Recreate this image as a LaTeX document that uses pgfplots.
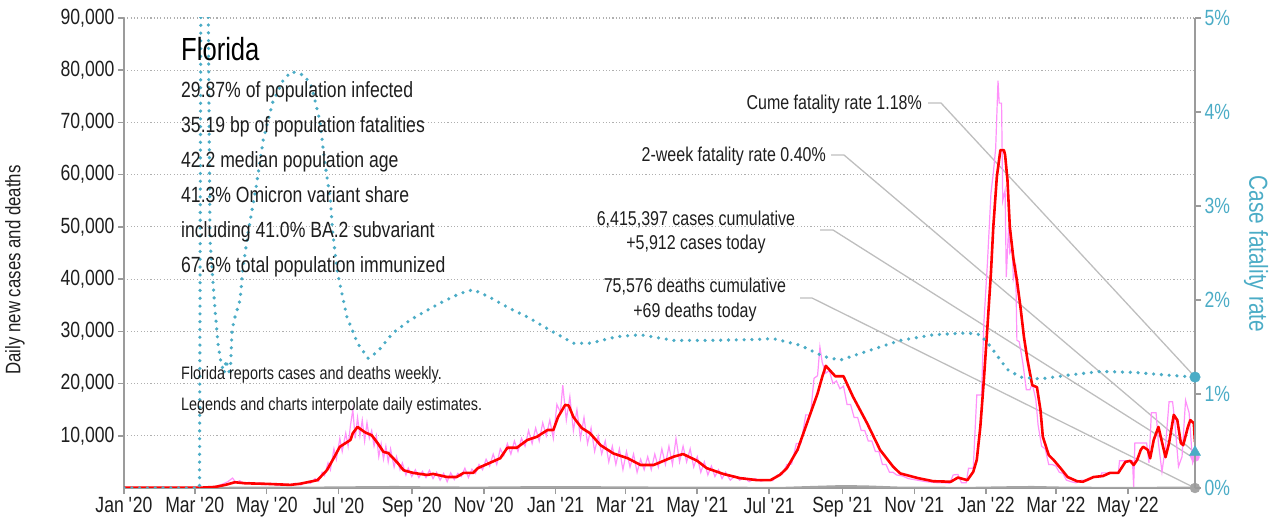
\documentclass[border=0pt]{standalone}
\usepackage{pgfplots}
\pgfplotsset{compat=1.18}
\usepackage{fontspec}
\setmainfont{Liberation Sans}[FakeStretch=0.8]

\definecolor{tealc}{RGB}{75,172,198}
\definecolor{redc}{RGB}{255,0,0}
\definecolor{pinkc}{RGB}{255,145,250}
\definecolor{deathc}{RGB}{165,165,165}
\definecolor{leadc}{RGB}{190,190,190}
\definecolor{axisc}{RGB}{155,155,155}
\definecolor{gridc}{RGB}{175,175,175}
\definecolor{textc}{RGB}{30,30,30}

\newcommand{\yr}[1]{\textquotesingle#1}
\newcommand{\fs}[1]{\fontsize{#1bp}{#1bp}\selectfont}

\begin{document}
\begin{tikzpicture}
\path[use as bounding box] (0,0) rectangle (1283bp,529bp);

% leader lines from the notes to the end points
\begin{scope}[draw=leadc, line width=1.3bp]
  \draw (928bp,426bp) -- (941bp,426bp) -- (1195bp,152bp);
  \draw (831bp,374bp) -- (844bp,374bp) -- (1193bp,78bp);
  \draw (820bp,299bp) -- (833bp,299bp) -- (1192bp,72bp);
  \draw (800bp,231bp) -- (812bp,231bp) -- (1195bp,41bp);
\end{scope}

% cases and deaths
\begin{axis}[
    at={(124bp,41bp)}, anchor=south west,
    width=1071bp, height=470bp, scale only axis,
    xmin=0, xmax=908, ymin=0, ymax=90000,
    axis x line*=bottom, axis y line*=left,
    axis line style={-, draw=axisc, line width=2bp},
    xtick={0,60,121,182,244,305,366,425,486,547,609,670,731,790,851},
    xticklabels={Jan \yr{20}, Mar \yr{20}, May \yr{20}, Jul \yr{20}, Sep \yr{20}, Nov \yr{20},
                 Jan \yr{21}, Mar \yr{21}, May \yr{21}, Jul \yr{21}, Sep \yr{21}, Nov \yr{21},
                 Jan \yr{22}, Mar \yr{22}, May \yr{22}},
    ytick={10000,20000,...,90000},
    scaled y ticks=false,
    tick align=outside, major tick length=6bp,
    tick style={draw=axisc, line width=1.5bp},
    ymajorgrids,
    grid style={draw=gridc, line width=1.1bp, dash pattern=on 1.1bp off 2.2bp},
    ticklabel style={font=\fs{22}, text=textc},
    /pgf/number format/assume math mode=true,
    /pgf/number format/1000 sep={,},
]
  % daily reported cases (interpolated)
  \addplot[pinkc, line width=1.2bp] coordinates {
    (0,0)(60,0)(70,100)(78,300)(84,800)(88,1200)(92,1900)(95,1000)(98,1400)(102,800)
    (106,1100)(110,700)(115,1000)(120,600)(125,900)(130,500)(135,800)(140,500)(145,900)
    (150,600)(154,1100)(158,900)(162,1800)(165,1300)(168,3000)(170,2400)(173,4800)
    (175,3500)(178,7500)(180,5500)(183,9500)(185,7000)(188,10500)(190,8000)(192,12000)
    (194,15000)(196,9500)(198,13500)(200,10000)(202,13000)(204,9000)(206,12500)(208,9500)
    (210,11000)(212,8000)(214,10000)(216,6000)(218,8500)(220,5500)(222,8000)(224,5000)
    (226,7500)(229,4000)(231,6000)(234,3500)(236,4800)(239,2500)(241,3800)(244,2200)
    (247,3500)(250,2000)(253,3200)(256,2000)(259,3400)(262,1800)(265,3000)(268,1500)
    (271,2800)(274,1200)(277,2900)(280,1600)(283,2800)(286,2200)(289,3800)(292,2000)
    (295,3600)(298,2800)(301,4500)(304,3500)(307,5500)(310,4200)(313,6500)(316,4500)
    (319,7500)(322,6200)(325,8500)(328,6500)(331,9000)(334,7000)(337,9500)(340,8000)
    (343,11000)(346,8500)(349,11500)(352,9000)(355,12500)(358,10000)(361,13000)(364,9500)
    (367,16000)(370,14500)(372,19700)(375,13000)(378,17500)(381,11000)(384,15000)(387,9500)
    (390,13500)(393,8500)(396,11500)(399,7000)(402,10000)(405,6500)(408,9000)(411,5000)
    (414,8000)(417,4500)(420,7500)(423,3500)(426,7000)(429,4000)(432,6500)(435,3000)
    (438,5500)(441,3500)(444,6000)(447,3500)(450,6500)(453,4000)(456,7500)(459,4500)
    (462,8000)(465,4500)(468,9500)(471,5000)(474,8000)(477,5000)(480,7500)(483,4000)
    (486,6000)(489,3000)(492,5000)(495,2500)(498,4200)(501,2200)(504,3500)(507,1800)
    (510,3000)(514,1500)(518,2300)(522,1500)(526,2000)(530,1200)(535,1800)(540,1300)
    (545,1600)(550,1400)(554,2500)(558,2600)(562,4500)(566,4600)(570,8500)(574,8600)
    (578,14000)(582,14000)(585,21000)(588,21500)(590,27000)(592,24000)(595,22000)
    (598,22500)(601,20000)(604,20500)(607,19000)(610,19500)(613,16000)(616,16000)
    (619,13500)(622,13500)(625,11000)(628,11000)(631,9000)(634,9000)(637,7000)(640,7000)
    (643,4500)(646,4500)(649,3000)(652,3000)(655,2500)(660,2300)(665,1800)(670,1600)
    (675,1400)(680,1200)(685,1100)(690,1000)(695,1000)(700,900)(703,2500)(707,2600)
    (710,1000)(714,1000)(716,3800)(720,3800)(723,17800)(727,17800)(729,31600)(732,43000)
    (735,56400)(737,60300)(739,65000)(741,78000)(742,73700)(744,73700)(745,55000)
    (747,57000)(748,40400)(750,50000)(751,45000)(753,46000)(754,40000)(756,42000)
    (757,28300)(759,28000)(762,24000)(765,18800)(768,18800)(770,20000)(773,17000)
    (775,12000)(778,8000)(781,7500)(784,4500)(787,4500)(790,4200)(793,3000)(796,2800)
    (799,1500)(803,1200)(807,1000)(812,1500)(817,1500)(822,2100)(828,2100)(829,2900)
    (843,2900)(844,5200)(855,5200)(856,200)(857,8600)(867,8600)(869,4800)(871,14400)
    (875,14400)(877,8600)(880,3100)(883,8000)(886,16500)(889,16500)(891,12400)(894,4100)
    (897,6000)(900,16800)(903,14400)(906,4800)(908,5900)
  };
  % deaths
  \addplot[deathc, line width=2bp] coordinates {
    (0,0)(70,0)(90,50)(150,60)(200,150)(230,200)(260,120)(300,80)(340,150)(380,180)
    (420,120)(460,80)(520,50)(560,40)(590,250)(610,380)(630,300)(660,60)(720,40)
    (750,150)(770,200)(800,60)(850,30)(908,70)
  };
  % 7-day average of cases
  \addplot[redc, line width=2.6bp, line join=round] coordinates {
    (0,50)(64,50)(77,200)(86,600)(94,1100)(103,900)(120,800)(141,600)(149,800)(164,1500)
    (172,3400)(177,5400)(183,7900)(192,9200)(194,10500)(198,11700)(204,10700)(210,10100)
    (215,8600)(220,6900)(224,6700)(232,4800)(237,3400)(245,2900)(257,2500)(262,2700)
    (274,2100)(282,2100)(288,2900)(296,2900)(300,3800)(310,4800)(319,5700)(325,7700)
    (333,7700)(342,9200)(350,9800)(359,11100)(364,11100)(368,13600)(374,15900)(377,15800)
    (381,13600)(388,11500)(395,10500)(404,8200)(415,6600)(427,5700)(438,4400)(449,4400)
    (466,6000)(474,6500)(486,5200)(494,3800)(508,2700)(522,1900)(537,1500)(548,1500)
    (556,2500)(562,3800)(571,7300)(579,12400)(588,18100)(592,21300)(595,23400)(603,21400)
    (610,21400)(618,17500)(630,12400)(641,7300)(652,4100)(658,2800)(673,1900)(686,1300)
    (701,1200)(707,2000)(715,1500)(720,3100)(723,5400)(726,11700)(729,20700)(732,30800)
    (735,41200)(737,50000)(740,59600)(743,64700)(746,64700)(747,63800)(749,59000)
    (751,50000)(754,44000)(757,39800)(760,34700)(763,28900)(766,24500)(770,19700)
    (774,19300)(777,14900)(779,9800)(784,6300)(788,5400)(794,3800)(800,2100)(808,1300)
    (813,1200)(822,2100)(830,2300)(836,2900)(843,2900)(849,5000)(853,5200)(856,4400)
    (859,5400)(862,7300)(864,7900)(868,7300)(870,5700)(873,9200)(877,11700)(880,8800)
    (883,5900)(886,8600)(890,14000)(893,13000)(896,8600)(898,8200)(902,11700)(904,13000)
    (907,12400)(908,8800)
  };
  \addplot[only marks, mark=*, mark size=5bp, color=deathc] coordinates {(908,0)};
  \addplot[only marks, mark=*, mark size=4.5bp, color=pinkc] coordinates {(908,5912)};
\end{axis}

% case fatality rate
\begin{axis}[
    at={(124bp,41bp)}, anchor=south west,
    width=1071bp, height=470bp, scale only axis,
    xmin=0, xmax=908, ymin=0, ymax=5,
    axis x line=none, axis y line*=right,
    axis line style={-, draw=axisc, line width=2bp},
    ytick={0,1,...,5},
    yticklabel={\pgfmathprintnumber{\tick}\%},
    tick align=outside, major tick length=6bp,
    tick style={draw=axisc, line width=1.5bp},
    ticklabel style={font=\fs{22}, text=tealc},
    /pgf/number format/assume math mode=true,
]
  \addplot[tealc, line width=3.6bp, line cap=round, dash pattern=on 0bp off 7.8bp] coordinates {
    (0,0)(64,0)(66,9)(71,9)(71.5,5)(72.9,2.64)(75.5,2.18)(77.2,1.89)(79.7,1.54)(81.4,1.39)
    (83,1.30)(85,1.22)(86.5,1.36)(88,1.28)(90,1.20)(91.6,1.68)(94.1,1.82)(98.4,2.0)
    (100.9,2.35)(105.2,2.71)(108.6,2.96)(112,3.2)(118,3.70)(126,4.10)(135,4.34)
    (142,4.43)(153,4.39)(159,4.27)(166,3.91)(170,3.49)(175,3.06)(177,2.71)(181,2.29)
    (189,1.82)(198,1.54)(207,1.38)(215,1.45)(228,1.65)(243,1.79)(257,1.89)(270,1.98)
    (285,2.07)(296,2.11)(310,2.03)(327,1.91)(342,1.82)(361,1.68)(381,1.54)(395,1.54)
    (418,1.61)(438,1.63)(466,1.57)(494,1.57)(537,1.58)(550,1.59)(573,1.52)(593,1.40)
    (607,1.36)(624,1.43)(641,1.50)(658,1.57)(686,1.63)(715,1.65)(726,1.63)(735,1.50)
    (743,1.36)(749,1.26)(760,1.18)(777,1.16)(800,1.20)(828,1.24)(856,1.23)(885,1.20)
    (908,1.18)
  };
  \addplot[only marks, mark=*, mark size=5.3bp, color=tealc] coordinates {(908,1.18)};
  \addplot[only marks, mark=triangle*, mark size=6.5bp, color=tealc] coordinates {(908,0.38)};
\end{axis}

% axis titles
\node[rotate=90, font=\fs{21}, text=textc] at (15bp,259bp) {Daily new cases and deaths};
\node[rotate=-90, font=\fs{26}, text=tealc] at (1256bp,275bp) {Case fatality rate};

% state panel
\node[anchor=base west, inner sep=0, font=\fs{32}, text=black] at (181bp,468bp) {Florida};
\begin{scope}[every node/.style={anchor=base west, inner sep=0, font=\fs{22}, text=textc}]
  \node at (181bp,431bp) {29.87\% of population infected};
  \node at (181bp,396.5bp) {35.19 bp of population fatalities};
  \node at (181bp,361.5bp) {42.2 median population age};
  \node at (181bp,326.5bp) {41.3\% Omicron variant share};
  \node at (181bp,291.5bp) {including 41.0\% BA.2 subvariant};
  \node at (181bp,256.5bp) {67.6\% total population immunized};
\end{scope}
\begin{scope}[every node/.style={anchor=base west, inner sep=0, font=\fs{18}, text=textc}]
  \node at (181bp,149bp) {Florida reports cases and deaths weekly.};
  \node at (181bp,118bp) {Legends and charts interpolate daily estimates.};
\end{scope}

% notes at the leader lines
\begin{scope}[every node/.style={inner sep=0, font=\fs{20}, text=textc}]
  \node[anchor=base east] at (922bp,419bp) {Cume fatality rate 1.18\%};
  \node[anchor=base east] at (826bp,367bp) {2-week fatality rate 0.40\%};
  \node[anchor=base] at (696bp,303bp) {6,415,397 cases cumulative};
  \node[anchor=base] at (696bp,279bp) {+5,912 cases today};
  \node[anchor=base] at (695bp,236bp) {75,576 deaths cumulative};
  \node[anchor=base] at (695bp,211bp) {+69 deaths today};
\end{scope}
\end{tikzpicture}
\end{document}
